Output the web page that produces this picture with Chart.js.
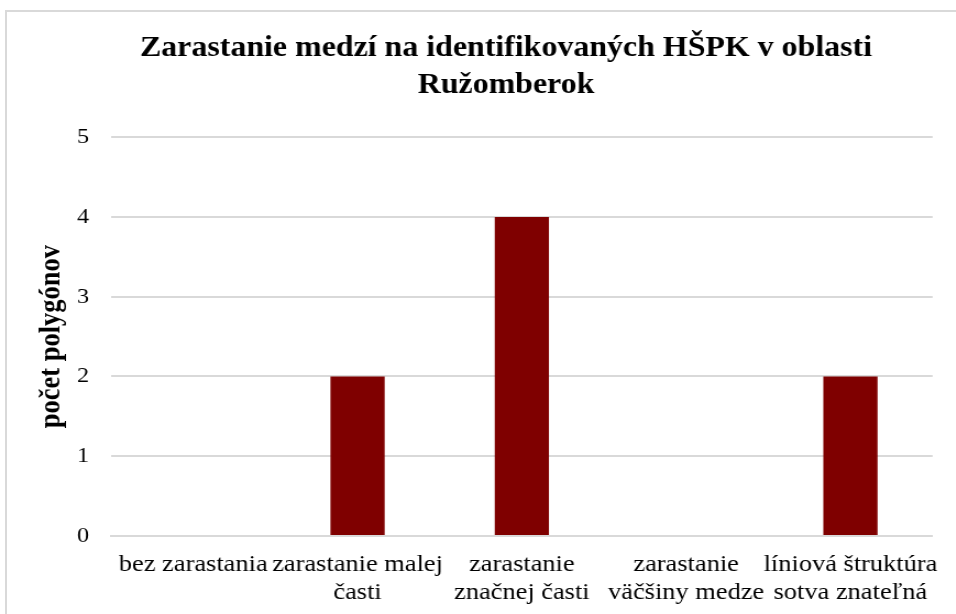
<!DOCTYPE html>
<html>
<head>
<meta charset="utf-8">
<script src="https://cdn.jsdelivr.net/npm/chart.js@4"></script>
<style>
  html, body { margin: 0; padding: 0; background: #fff; overflow: hidden; }
  #wrap { position: relative; width: 956px; height: 614px; overflow: hidden; }
  #holder { position: absolute; left: 0; top: 0; width: 869px; height: 614px; transform: scaleX(1.1); transform-origin: 0 0; }
  #frame { position: absolute; left: 5px; top: 10px; right: -10px; bottom: -10px; border: 2px solid #d9d9d9; }
</style>
</head>
<body>
<div id="wrap">
  <div id="frame"></div>
  <!-- the reference is a little stretched sideways, so the canvas is drawn narrower and widened by css -->
  <div id="holder"><canvas id="chart" width="869" height="614"></canvas></div>
</div>
<script>
const categories = [
  'bez zarastania',
  ['zarastanie malej', 'časti'],
  ['zarastanie', 'značnej časti'],
  ['zarastanie', 'väčšiny medze'],
  ['líniová štruktúra', 'sotva znateľná']
];
const counts = [0, 2, 4, 0, 2];
const yTicks = [0, 1, 2, 3, 4, 5];

const titleLines = ['Zarastanie medzí na identifikovaných HŠPK v oblasti', 'Ružomberok'];
const yTitle = 'počet polygónov';

const serif = '"Liberation Serif", "Times New Roman", serif';

// left padding is wide so the chart title centres like the original;
// the y axis title is pulled back left with a negative padding
new Chart(document.getElementById('chart'), {
  type: 'bar',
  data: {
    labels: categories,
    datasets: [{
      label: 'počet',
      data: counts,
      backgroundColor: '#7f0000',
      borderWidth: 0,
      categoryPercentage: 1,
      barPercentage: 0.33
    }]
  },
  options: {
    responsive: false,
    animation: false,
    layout: { padding: { left: 70, right: 19, top: 20, bottom: 0 } },
    plugins: {
      legend: { display: false },
      tooltip: { enabled: false },
      title: {
        display: true,
        text: titleLines,
        color: '#000',
        font: { family: serif, size: 29, weight: 'bold', lineHeight: 1.28 },
        padding: { top: 10, bottom: 33 }
      }
    },
    scales: {
      x: {
        afterFit: (axis) => { axis.height = 78; },
        grid: { display: false, drawTicks: false },
        border: { display: true, color: '#d9d9d9', width: 2 },
        ticks: {
          color: '#000',
          font: { family: serif, size: 24, lineHeight: 1.15 },
          padding: 15,
          maxRotation: 0,
          minRotation: 0,
          autoSkip: false
        }
      },
      y: {
        min: 0,
        max: 5,
        afterBuildTicks: (axis) => { axis.ticks = yTicks.map((v) => ({ value: v })); },
        afterFit: (axis) => { axis.width = 31; },
        grid: { color: '#d9d9d9', lineWidth: 2, drawTicks: false },
        border: { display: false },
        title: {
          display: true,
          text: yTitle,
          color: '#000',
          font: { family: serif, size: 26.5, weight: 'bold' },
          padding: { top: -39, bottom: 0 }
        },
        ticks: {
          color: '#000',
          font: { family: serif, size: 22 },
          padding: 20
        }
      }
    }
  }
});
</script>
</body>
</html>
